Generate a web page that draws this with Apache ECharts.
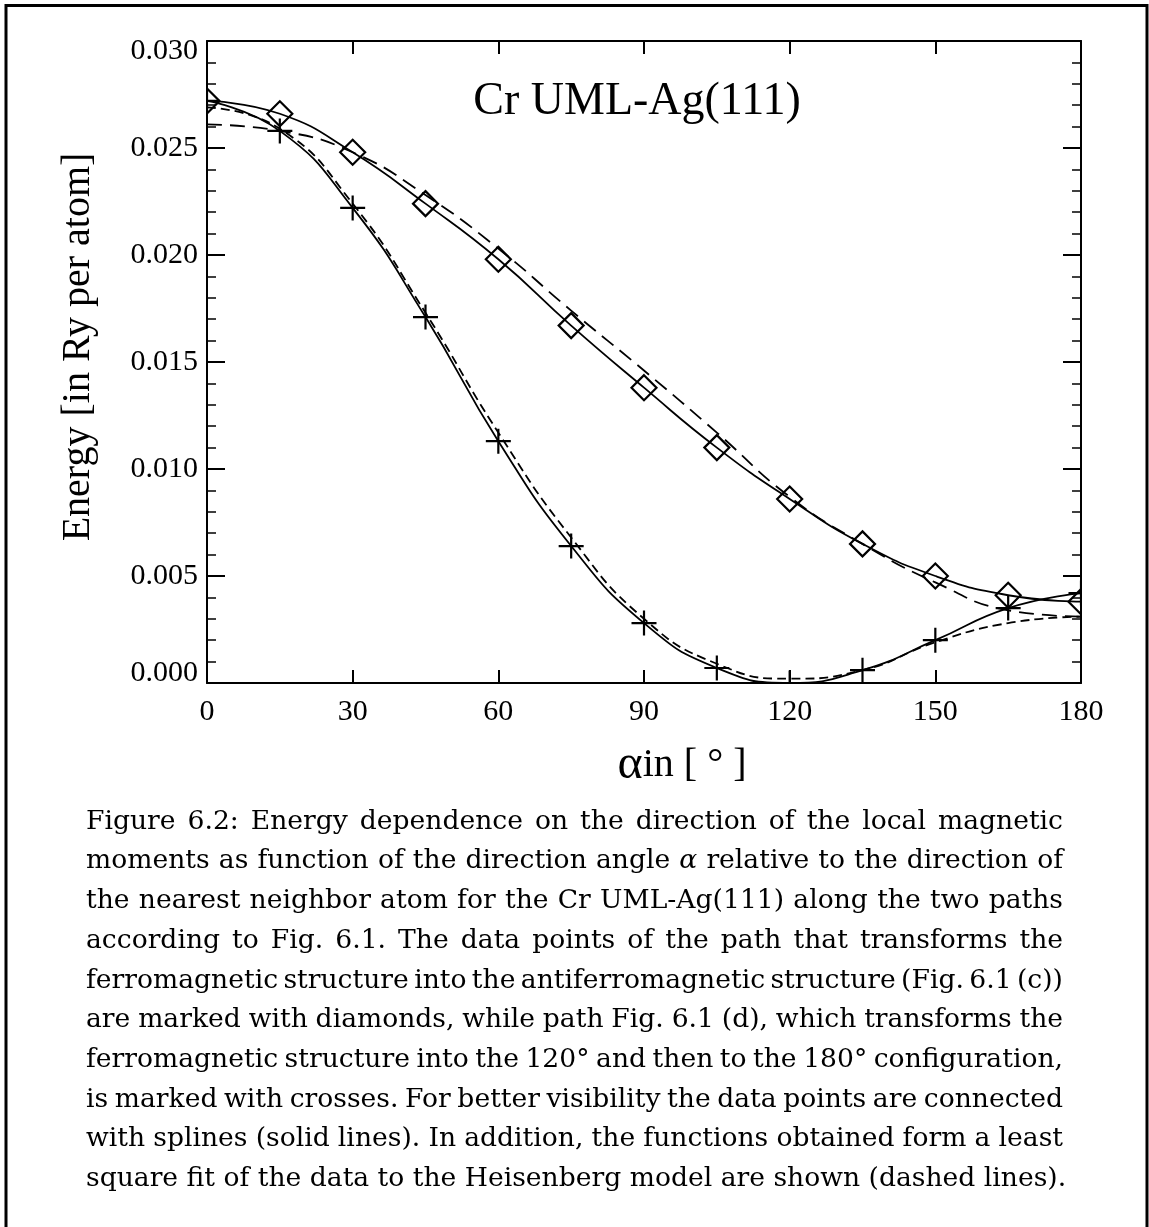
<!DOCTYPE html>
<html>
<head>
<meta charset="utf-8">
<script src="https://cdn.jsdelivr.net/npm/echarts@6/dist/echarts.min.js"></script>
<style>
  html, body { margin: 0; padding: 0; background: #fff; }
  #chart { width: 1149px; height: 1227px; }
</style>
</head>
<body>
<div id="chart"></div>
<script>
// Direction angle alpha in degrees
const angles = [0, 15, 30, 45, 60, 75, 90, 105, 120, 135, 150, 165, 180];

// Path (c): ferromagnetic -> antiferromagnetic (diamonds), Ry per atom
const diamondEnergy = [0.0272, 0.0266, 0.0248, 0.0224, 0.0198, 0.0167, 0.0138, 0.0110, 0.0086, 0.0065, 0.0050, 0.0041, 0.0038];
// Path (d): ferromagnetic -> 120 deg -> 180 deg (crosses)
const crossEnergy = [0.0272, 0.0258, 0.0222, 0.0171, 0.0113, 0.0064, 0.0028, 0.0007, 0.0000, 0.0006, 0.0020, 0.0035, 0.0042];

// Heisenberg-model least square fits (dashed)
const diamondFit = [0.0261, 0.0258, 0.0248, 0.0228, 0.0203, 0.0174, 0.0146, 0.0117, 0.0087, 0.0065, 0.0047, 0.0034, 0.0031];
const crossFit = [0.0269, 0.0259, 0.0224, 0.0173, 0.0117, 0.0068, 0.0030, 0.0009, 0.0002, 0.0006, 0.0019, 0.0028, 0.0031];

// Axis ranges
const xMin = 0, xMax = 180, xStep = 30;
const yMin = 0, yMax = 0.030, yStep = 0.005;
const yLabelDigits = 3;

const plotTitle = 'Cr UML-Ag(111)';
const xNameSymbol = 'α';
const xNameRest = 'in [ ° ]';
const yName = 'Energy [in Ry per atom]';

const captionLines = [
  'Figure 6.2: Energy dependence on the direction of the local magnetic',
  'moments as function of the direction angle α relative to the direction of',
  'the nearest neighbor atom for the Cr UML-Ag(111) along the two paths',
  'according to Fig. 6.1. The data points of the path that transforms the',
  'ferromagnetic structure into the antiferromagnetic structure (Fig. 6.1 (c))',
  'are marked with diamonds, while path Fig. 6.1 (d), which transforms the',
  'ferromagnetic structure into the 120° and then to the 180° configuration,',
  'is marked with crosses. For better visibility the data points are connected',
  'with splines (solid lines). In addition, the functions obtained form a least',
  'square fit of the data to the Heisenberg model are shown (dashed lines).'
];

const pairs = (ys) => angles.map((a, i) => [a, ys[i]]);

const SERIF = 'Liberation Serif';
const CAPTION_FONT = 'DejaVu Serif';
const GRID = { left: 207, right: 68, top: 41, bottom: 544 };
const W = 1149, H = 1227;

const chart = echarts.init(document.getElementById('chart'), null, { renderer: 'canvas' });

const axisLineStyle = { color: '#000', width: 2 };
const labelFont = { fontFamily: SERIF, fontSize: 30, color: '#000' };

function xAxisDef(pos, showLabel) {
  return {
    type: 'value', position: pos, min: xMin, max: xMax, interval: xStep, z: 10,
    axisLine: { show: true, onZero: false, lineStyle: axisLineStyle },
    axisTick: { show: true, inside: true, length: 13, lineStyle: axisLineStyle },
    minorTick: { show: false },
    splitLine: { show: false },
    axisLabel: Object.assign({ show: showLabel, margin: 14 }, labelFont)
  };
}

function yLabelFormatter(v) {
  const s = v.toFixed(yLabelDigits);
  if (Math.abs(v - yMin) < 1e-9) return '{lo|' + s + '}';
  if (Math.abs(v - yMax) < 1e-9) return '{hi|' + s + '}';
  return '{n|' + s + '}';
}

function yAxisDef(pos, showLabel) {
  return {
    type: 'value', position: pos, min: yMin, max: yMax, interval: yStep, z: 10,
    axisLine: { show: true, onZero: false, lineStyle: axisLineStyle },
    axisTick: { show: true, inside: true, length: 18, lineStyle: axisLineStyle },
    minorTick: { show: true, splitNumber: 5, length: 9, lineStyle: { color: '#000', width: 1.5 } },
    splitLine: { show: false },
    axisLabel: {
      show: showLabel, margin: 9, formatter: yLabelFormatter,
      rich: {
        n: Object.assign({}, labelFont),
        lo: Object.assign({ padding: [0, 0, 20, 0] }, labelFont),
        hi: Object.assign({ padding: [20, 0, 0, 0] }, labelFont)
      }
    }
  };
}

const crossSymbol = 'path://M12,0L12,24M0,12L24,12';

function dataSeries(ys, symbol) {
  return {
    type: 'line', data: pairs(ys), smooth: 0.5, clip: true,
    symbol: symbol, symbolSize: 25, showSymbol: true, showAllSymbol: true,
    lineStyle: { color: '#000', width: 1.8, type: 'solid' },
    itemStyle: { color: 'none', borderColor: '#000', borderWidth: 2.2 },
    emphasis: { disabled: true }, silent: true, animation: false
  };
}

function fitSeries(ys, dash) {
  return {
    type: 'line', data: pairs(ys), smooth: 0.5, clip: true, showSymbol: false, symbol: 'none',
    lineStyle: { color: '#000', width: 1.8, type: dash },
    emphasis: { disabled: true }, silent: true, animation: false
  };
}

// Caption: justified paragraph, one text element per word
const measureCtx = document.createElement('canvas').getContext('2d');
function textWidth(t, fs, italic) {
  measureCtx.font = (italic ? 'italic ' : '') + fs + 'px "' + CAPTION_FONT + '"';
  return measureCtx.measureText(t).width;
}
function buildCaption() {
  const left = 86, right = 1063, firstBaseline = 831, lineStep = 39.7;
  const lastLine = captionLines[captionLines.length - 1];
  const lastTarget = 981;
  const fs = Math.round(100 * lastTarget / textWidth(lastLine, 100, false) * 10) / 10;
  const els = [];
  captionLines.forEach((line, li) => {
    const words = line.split(' ');
    const italicFlags = words.map(w => w === 'α');
    const widths = words.map((w, i) => textWidth(w, fs, italicFlags[i]));
    const sum = widths.reduce((a, b) => a + b, 0);
    let gap;
    if (li < captionLines.length - 1) {
      gap = Math.max((right - left - sum) / (words.length - 1), 0.12 * fs);
    } else {
      gap = textWidth(' ', fs, false);
    }
    let x = left;
    const yMid = firstBaseline + li * lineStep - 0.346 * fs;
    words.forEach((w, i) => {
      els.push({
        type: 'text', x: x, y: yMid, silent: true, z: 10,
        style: {
          text: w, fill: '#000', fontFamily: CAPTION_FONT, fontSize: fs,
          fontStyle: italicFlags[i] ? 'italic' : 'normal',
          align: 'left', verticalAlign: 'middle'
        }
      });
      x += widths[i] + gap;
    });
  });
  return els;
}

// White strips outside the plotting area trim markers that sit on the frame
function buildMasks() {
  const x0 = GRID.left, x1 = W - GRID.right, y0 = GRID.top, y1 = H - GRID.bottom;
  const pad = 30;
  const mk = (x, y, w, h) => ({ type: 'rect', silent: true, z: 5, shape: { x, y, width: w, height: h }, style: { fill: '#fff' } });
  return [
    mk(x0 - pad, y0 - pad, pad, (y1 - y0) + 2 * pad),
    mk(x1, y0 - pad, pad, (y1 - y0) + 2 * pad),
    mk(x0 - pad, y0 - pad, (x1 - x0) + 2 * pad, pad),
    mk(x0 - pad, y1, (x1 - x0) + 2 * pad, pad)
  ];
}

const graphics = [].concat(
  buildMasks(),
  [
    {
      type: 'text', x: 637, y: 102, silent: true, z: 10,
      style: { text: plotTitle, fill: '#000', fontFamily: SERIF, fontSize: 46, align: 'center', verticalAlign: 'middle' }
    },
    {
      type: 'text', x: 682, y: 765, silent: true, z: 10,
      style: {
        text: '{a|' + xNameSymbol + '}{b|' + xNameRest + '}',
        align: 'center', verticalAlign: 'middle',
        rich: {
          a: { fill: '#000', fontFamily: SERIF, fontSize: 48 },
          b: { fill: '#000', fontFamily: SERIF, fontSize: 40 }
        }
      }
    },
    {
      type: 'text', x: 78, y: 347, rotation: Math.PI / 2, silent: true, z: 10,
      style: { text: yName, fill: '#000', fontFamily: SERIF, fontSize: 40, align: 'center', verticalAlign: 'middle' }
    },
    {
      type: 'rect', silent: true, z: 30,
      shape: { x: 6, y: 5.5, width: 1141, height: 1300 },
      style: { fill: 'none', stroke: '#000', lineWidth: 3 }
    }
  ],
  buildCaption()
);

chart.setOption({
  backgroundColor: '#fff',
  animation: false,
  grid: Object.assign({ containLabel: false, outerBoundsMode: 'none' }, GRID),
  xAxis: [xAxisDef('bottom', true), xAxisDef('top', false)],
  yAxis: [yAxisDef('left', true), yAxisDef('right', false)],
  series: [
    dataSeries(diamondEnergy, 'diamond'),
    dataSeries(crossEnergy, crossSymbol),
    fitSeries(diamondFit, [15, 8]),
    fitSeries(crossFit, [9, 5])
  ],
  graphic: { elements: graphics }
});
</script>
</body>
</html>
